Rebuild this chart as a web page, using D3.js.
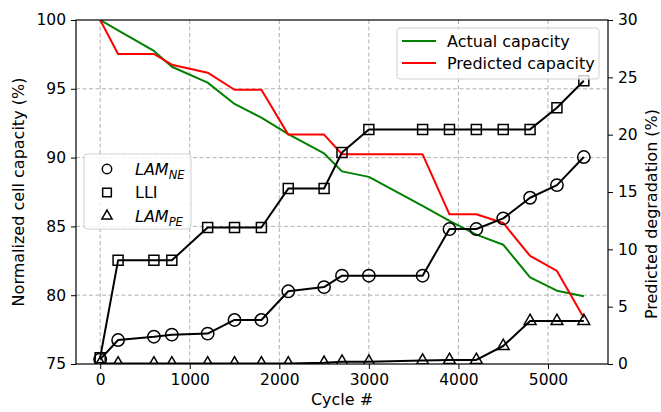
<!DOCTYPE html>
<html>
<head>
<meta charset="utf-8">
<script src="https://cdn.jsdelivr.net/npm/d3@7"></script>
<style>
  body { margin: 0; background: #fff; }
  text { font-family: "DejaVu Sans", sans-serif; fill: #000; }
</style>
</head>
<body>
<div id="chart"></div>
<script>
var svgWidth = 661;
var svgHeight = 412;

var margin = { top: 20, right: 53, bottom: 48, left: 76 };
var width = svgWidth - margin.left - margin.right;
var height = svgHeight - margin.top - margin.bottom;

// data
var cycles = [0, 200, 600, 800, 1200, 1500, 1800, 2100, 2500, 2700, 3000, 3600, 3900, 4200, 4500, 4800, 5100, 5400];
var actualCapacity = [100, 99.25, 97.75, 96.6, 95.45, 93.9, 92.9, 91.7, 90.3, 89.0, 88.6, 86.5, 85.4, 84.4, 83.67, 81.3, 80.33, 79.92];
var predictedCapacity = [100, 97.53, 97.53, 96.75, 96.17, 94.93, 94.93, 91.67, 91.67, 90.24, 90.24, 90.24, 85.88, 85.88, 85.25, 82.85, 81.76, 78.37];
var lamNE = [0.4, 2.09, 2.38, 2.56, 2.65, 3.84, 3.84, 6.34, 6.71, 7.7, 7.7, 7.7, 11.77, 11.77, 12.7, 14.5, 15.6, 18.05];
var lli = [0.55, 9.04, 9.04, 9.04, 11.9, 11.9, 11.9, 15.3, 15.3, 18.45, 20.46, 20.46, 20.46, 20.46, 20.46, 20.46, 22.35, 24.7];
var lamPE = [0.05, 0.05, 0.05, 0.05, 0.05, 0.05, 0.05, 0.05, 0.1, 0.2, 0.2, 0.3, 0.35, 0.35, 1.57, 3.75, 3.75, 3.75];

var xTicks = [0, 1000, 2000, 3000, 4000, 5000];
var leftTicks = [75, 80, 85, 90, 95, 100];
var rightTicks = [0, 5, 10, 15, 20, 25, 30];

var tickFont = 15.5;
var labelFont = 16;

var svg = d3.select("#chart")
  .append("svg")
  .attr("width", svgWidth)
  .attr("height", svgHeight);

var chartGroup = svg.append("g")
  .attr("transform", `translate(${margin.left}, ${margin.top})`);

var xScale = d3.scaleLinear().domain([-270, 5670]).range([0, width]);
var yLeft = d3.scaleLinear().domain([75, 100]).range([height, 0]);
var yRight = d3.scaleLinear().domain([0, 30]).range([height, 0]);

svg.append("defs").append("clipPath")
  .attr("id", "plotClip")
  .append("rect")
  .attr("width", width)
  .attr("height", height);

// grid lines
var grid = chartGroup.append("g");
grid.selectAll(".vgrid")
  .data(xTicks)
  .enter()
  .append("line")
  .attr("x1", d => xScale(d))
  .attr("x2", d => xScale(d))
  .attr("y1", 0)
  .attr("y2", height);
grid.selectAll(".hgrid")
  .data(leftTicks.slice(1, -1))
  .enter()
  .append("line")
  .attr("x1", 0)
  .attr("x2", width)
  .attr("y1", d => yLeft(d))
  .attr("y2", d => yLeft(d));
grid.selectAll("line")
  .attr("stroke", "#b0b0b0")
  .attr("stroke-width", 1)
  .attr("stroke-dasharray", "4,2.5");

var plot = chartGroup.append("g").attr("clip-path", "url(#plotClip)");

function drawLine(values, yScale, color) {
  var line = d3.line()
    .x((d, i) => xScale(cycles[i]))
    .y(d => yScale(d));
  plot.append("path")
    .datum(values)
    .attr("d", line)
    .attr("fill", "none")
    .attr("stroke", color)
    .attr("stroke-width", 2)
    .attr("stroke-linejoin", "round");
}

var symbols = {
  circle: d3.symbol().type(d3.symbolCircle).size(120),
  square: d3.symbol().type(d3.symbolSquare).size(100),
  triangle: d3.symbol().type(d3.symbolTriangle).size(60)
};
// legend markers are drawn a little smaller
var legendSymbols = {
  circle: d3.symbol().type(d3.symbolCircle).size(70),
  square: d3.symbol().type(d3.symbolSquare).size(75),
  triangle: d3.symbol().type(d3.symbolTriangle).size(45)
};

function drawMarkers(values, shape) {
  plot.append("g")
    .selectAll("path")
    .data(values)
    .enter()
    .append("path")
    .attr("transform", (d, i) => `translate(${xScale(cycles[i])}, ${yRight(d)})`)
    .attr("d", symbols[shape])
    .attr("fill", "none")
    .attr("stroke", "#000")
    .attr("stroke-width", 1.5);
}

drawLine(actualCapacity, yLeft, "#008000");
drawLine(predictedCapacity, yLeft, "#ff0000");
drawLine(lamNE, yRight, "#000");
drawMarkers(lamNE, "circle");
drawLine(lli, yRight, "#000");
drawMarkers(lli, "square");
drawLine(lamPE, yRight, "#000");
drawMarkers(lamPE, "triangle");

// axes
var bottomAxis = d3.axisBottom(xScale).tickValues(xTicks).tickFormat(d3.format("d")).tickSize(5).tickPadding(5);
var leftAxis = d3.axisLeft(yLeft).tickValues(leftTicks).tickFormat(d3.format("d")).tickSize(5).tickPadding(5);
var rightAxis = d3.axisRight(yRight).tickValues(rightTicks).tickFormat(d3.format("d")).tickSize(5).tickPadding(5);

var xAxis = chartGroup.append("g")
  .attr("transform", `translate(0, ${height})`)
  .call(bottomAxis);
var yAxisL = chartGroup.append("g").call(leftAxis);
var yAxisR = chartGroup.append("g")
  .attr("transform", `translate(${width}, 0)`)
  .call(rightAxis);

[xAxis, yAxisL, yAxisR].forEach(function(ax) {
  ax.select(".domain").remove();
  ax.selectAll("line").attr("stroke", "#000").attr("stroke-width", 1);
  ax.selectAll("text").attr("font-size", tickFont).attr("font-family", "DejaVu Sans");
});

// frame
chartGroup.append("rect")
  .attr("width", width)
  .attr("height", height)
  .attr("fill", "none")
  .attr("stroke", "#000")
  .attr("stroke-width", 1.2);

// axis titles
svg.append("text")
  .attr("x", margin.left + xScale(2700))
  .attr("y", 405)
  .attr("text-anchor", "middle")
  .attr("font-size", labelFont)
  .text("Cycle #");

svg.append("text")
  .attr("transform", `translate(24, ${margin.top + height / 2}) rotate(-90)`)
  .attr("text-anchor", "middle")
  .attr("font-size", labelFont)
  .text("Normalized cell capacity (%)");

svg.append("text")
  .attr("transform", `translate(657, 214) rotate(-90)`)
  .attr("text-anchor", "middle")
  .attr("font-size", labelFont)
  .text("Predicted degradation (%)");

// legend: capacities
var legendCap = [
  { label: "Actual capacity", color: "#008000" },
  { label: "Predicted capacity", color: "#ff0000" }
];
var capGroup = svg.append("g").attr("transform", "translate(397, 28)");
capGroup.append("rect")
  .attr("width", 202)
  .attr("height", 51)
  .attr("rx", 3)
  .attr("fill", "#fff")
  .attr("fill-opacity", 0.8)
  .attr("stroke", "#d0d0d0");
legendCap.forEach(function(item, i) {
  capGroup.append("line")
    .attr("x1", 5).attr("x2", 39)
    .attr("y1", 13 + i * 22).attr("y2", 13 + i * 22)
    .attr("stroke", item.color)
    .attr("stroke-width", 2);
  capGroup.append("text")
    .attr("x", 50)
    .attr("y", 13 + i * 22)
    .attr("dy", "0.35em")
    .attr("font-size", labelFont)
    .text(item.label);
});

// legend: degradation modes
var legendModes = [
  { main: "LAM", sub: "NE", shape: "circle", italic: true },
  { main: "LLI", sub: "", shape: "square", italic: false },
  { main: "LAM", sub: "PE", shape: "triangle", italic: true }
];
var modeGroup = svg.append("g").attr("transform", "translate(84, 154)");
modeGroup.append("rect")
  .attr("width", 107)
  .attr("height", 75)
  .attr("rx", 3)
  .attr("fill", "#fff")
  .attr("fill-opacity", 0.8)
  .attr("stroke", "#d0d0d0");
legendModes.forEach(function(item, i) {
  var cy = 15 + i * 23.5;
  modeGroup.append("path")
    .attr("transform", `translate(23, ${cy})`)
    .attr("d", legendSymbols[item.shape])
    .attr("fill", "none")
    .attr("stroke", "#000")
    .attr("stroke-width", 1.5);
  var t = modeGroup.append("text")
    .attr("x", 51)
    .attr("y", cy)
    .attr("dy", "0.35em")
    .attr("font-size", labelFont)
    .attr("font-style", item.italic ? "italic" : "normal");
  t.append("tspan").text(item.main);
  if (item.sub) {
    t.append("tspan")
      .attr("dy", 4)
      .attr("font-size", 11.5)
      .text(item.sub);
  }
});
</script>
</body>
</html>
